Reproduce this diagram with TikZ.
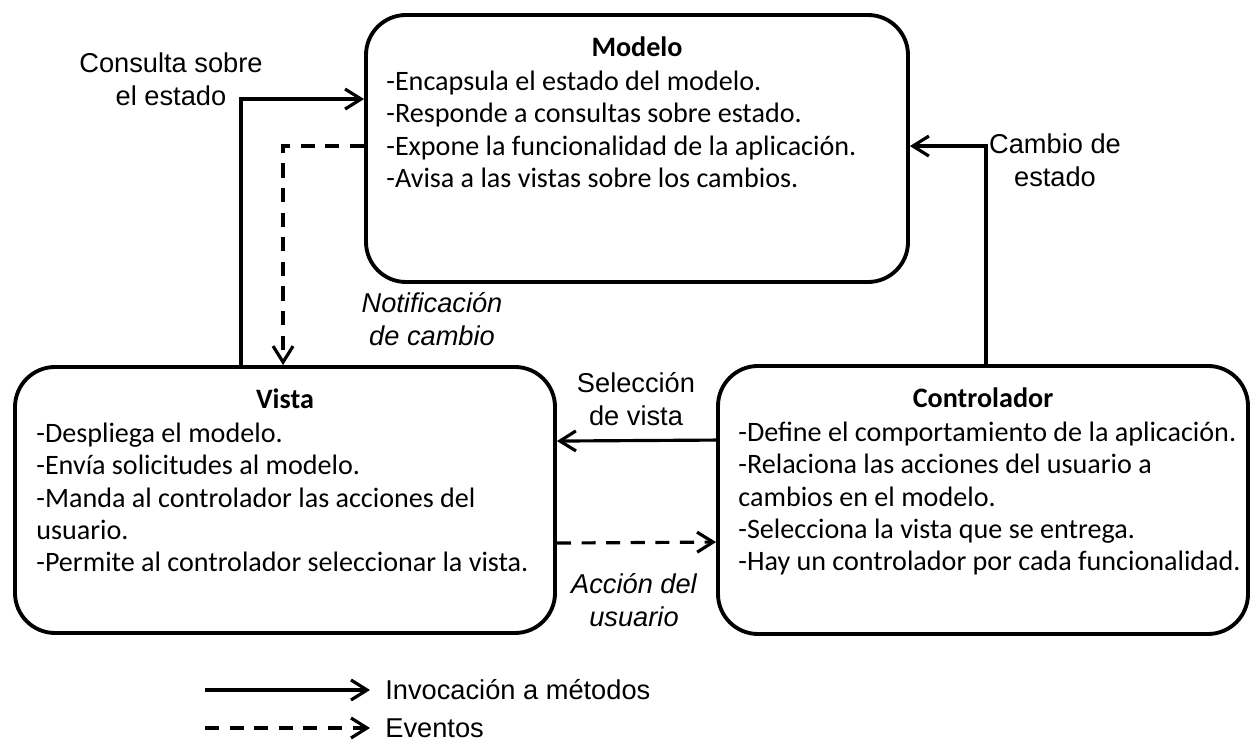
\documentclass[tikz,border=0pt]{standalone}
\usepackage{fontspec}
\setmainfont{Liberation Sans}
\newfontfamily\cajafont{Carlito}
\usetikzlibrary{arrows.meta,positioning,calc}

\begin{document}
\begin{tikzpicture}[
    caja/.style={draw, line width=2.2pt, rounded corners=0.8cm, inner sep=0pt},
    titulo/.style={font=\cajafont\bfseries\fontsize{16}{18.4}\selectfont, inner sep=0pt},
    cuerpo/.style={font=\cajafont\fontsize{16}{18.4}\selectfont, align=left, inner sep=0pt, anchor=north west},
    etiq/.style={font=\fontsize{15.5}{18.8}\selectfont, align=center, inner sep=0pt},
    invoc/.style={line width=1.8pt, -{Straight Barb[length=3.2mm,width=4mm,line width=1.8pt]}},
    evento/.style={invoc, dash pattern=on 8pt off 6pt}
]
\useasboundingbox (0,0) rectangle (25.02,-14.82);

% Cajas
\node[caja, minimum width=10.84cm, minimum height=5.34cm] (modelo) at (12.74,-2.97) {};
\node[caja, minimum width=10.8cm, minimum height=5.32cm] (vista) at (5.70,-10.0) {};
\node[caja, minimum width=10.6cm, minimum height=5.36cm] (control) at (19.66,-10.0) {};

% Textos de las cajas
\node[titulo, anchor=base] (modelo-tit) at ([yshift=-0.86cm]modelo.north) {Modelo};
\node[cuerpo] (modelo-txt) at ($(modelo.west |- modelo-tit.base)+(0.44,-0.29)$) {-Encapsula el estado del modelo.\\
-Responde a consultas sobre estado.\\
-Expone la funcionalidad de la aplicación.\\
-Avisa a las vistas sobre los cambios.};

\node[titulo, anchor=base] (vista-tit) at ([yshift=-0.86cm]vista.north) {Vista};
\node[cuerpo] (vista-txt) at ($(vista.west |- vista-tit.base)+(0.46,-0.29)$) {-Despliega el modelo.\\
-Envía solicitudes al modelo.\\
-Manda al controlador las acciones del\\
usuario.\\
-Permite al controlador seleccionar la vista.};

\node[titulo, anchor=base] (control-tit) at ([yshift=-0.86cm]control.north) {Controlador};
\node[cuerpo] (control-txt) at ($(control.west |- control-tit.base)+(0.44,-0.29)$) {-Define el comportamiento de la aplicación.\\
-Relaciona las acciones del usuario a\\
cambios en el modelo.\\
-Selecciona la vista que se entrega.\\
-Hay un controlador por cada funcionalidad.};

% Conectores
\draw[invoc] ([xshift=4.56cm]vista.north west) |- ([yshift=-1.72cm]modelo.north west);
\draw[evento] ([yshift=-2.66cm]modelo.north west) -| ([xshift=5.4cm]vista.north west);
\draw[invoc] ([xshift=5.4cm]control.north west) |- ([yshift=-2.66cm]modelo.north east);
\draw[invoc] ([yshift=-1.52cm]control.north west) -- ([yshift=-1.52cm]vista.north east);
\draw[evento] ([yshift=-3.56cm]vista.north east) -- ([yshift=-3.56cm]control.north west);

% Etiquetas
\node[etiq] (consulta) at (3.42,-1.58) {Consulta sobre\\el estado};
\node[etiq] (cambio) at (21.1,-3.2) {Cambio de\\estado};
\node[etiq, font=\fontsize{15.5}{18.8}\selectfont\itshape] (notif) at (8.64,-6.38) {Notificación\\de cambio};
\node[etiq] (seleccion) at (12.72,-7.98) {Selección\\de vista};
\node[etiq, font=\fontsize{15.5}{18.8}\selectfont\itshape] (accion) at (12.68,-12.0) {Acción del\\usuario};

% Leyenda
\node[etiq, anchor=west] (ley-invoc) at (7.7,-13.8) {Invocación a métodos};
\node[etiq, anchor=west] (ley-evento) at (7.7,-14.56) {Eventos};
\coordinate (ley-a) at (4.1,-13.8);
\coordinate (ley-b) at (4.1,-14.56);
\draw[invoc] (ley-a) -- ([xshift=-0.3cm]ley-invoc.west);
\draw[evento] (ley-b) -- ([xshift=-0.3cm]ley-evento.west);
\end{tikzpicture}
\end{document}
